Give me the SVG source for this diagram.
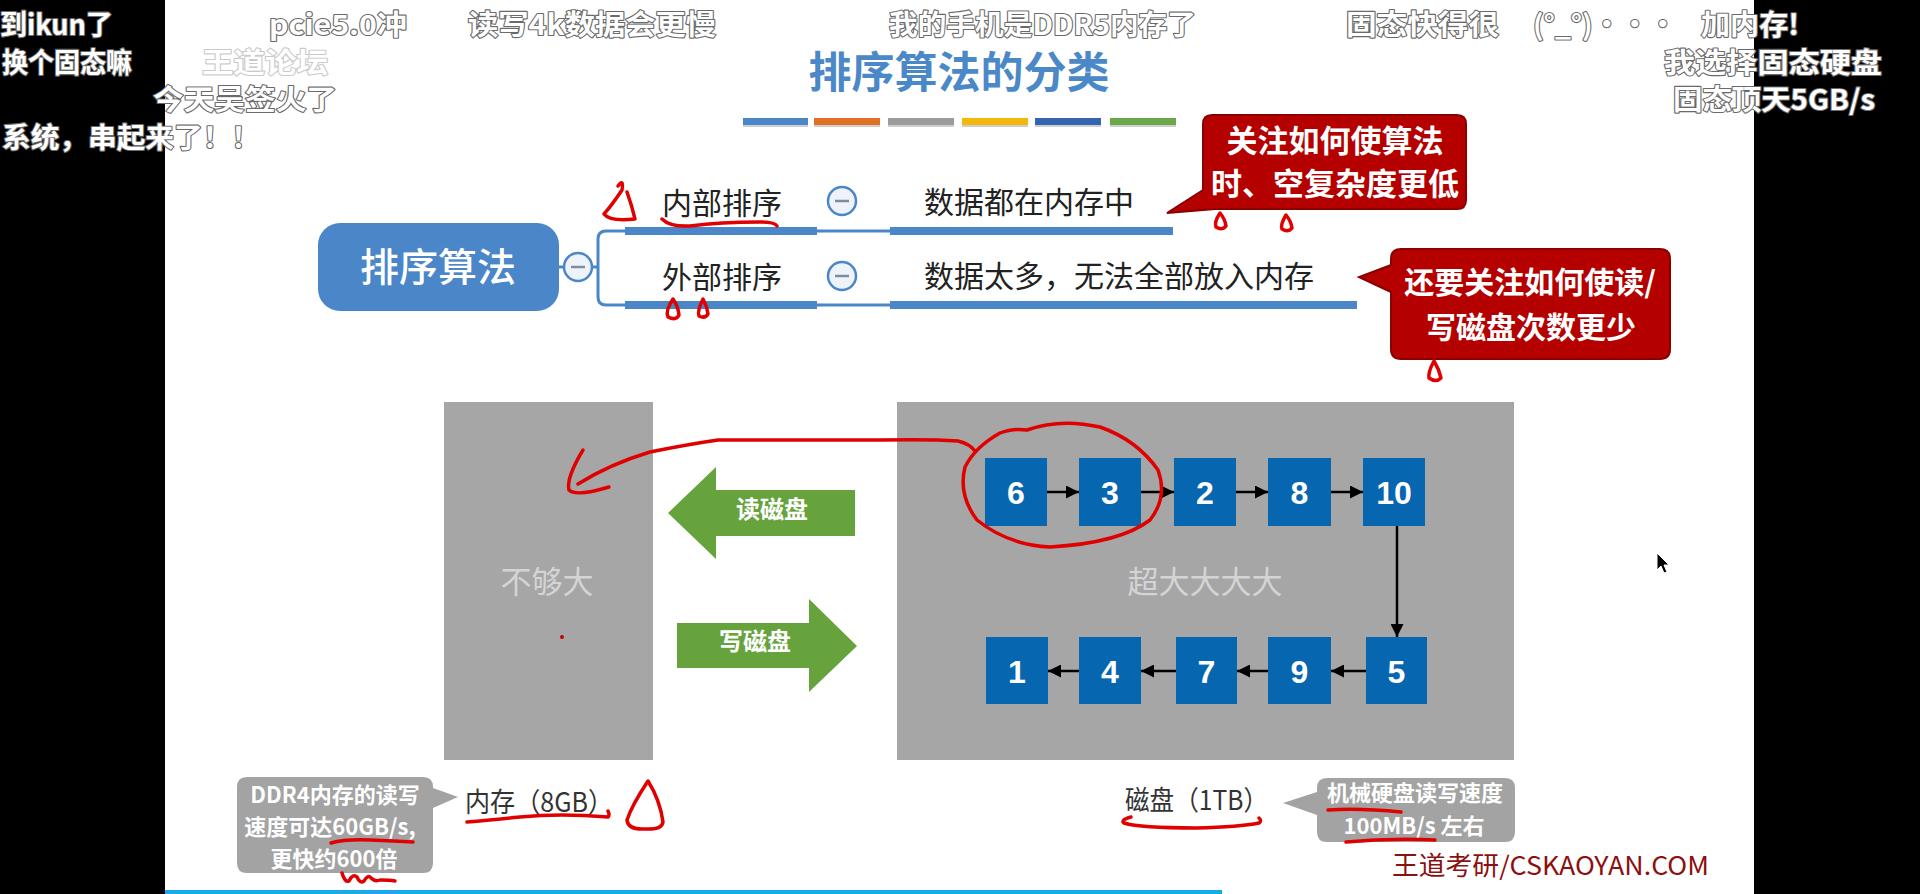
<svg xmlns="http://www.w3.org/2000/svg" width="1920" height="894" viewBox="0 0 1920 894">
<style>
.cjk{font-family:"Noto Sans CJK SC","Liberation Sans",sans-serif}
.dm{font-family:"Noto Sans CJK SC",sans-serif;font-weight:700;font-size:28px;fill:#fff;stroke:#6a6a6a;stroke-width:2.2;paint-order:stroke;stroke-linejoin:round}
.mm{stroke:#4a86c8;fill:none;stroke-width:3}
.bar{fill:#4a86c8}
.tog{fill:#eef3fa;stroke:#4a86c8;stroke-width:2.5}
.minus{stroke:#7d8ca3;stroke-width:2.5}
.node{fill:#0766b0}
.num{font-family:"Liberation Sans",Arial,sans-serif;font-weight:700;font-size:32px;fill:#fff;text-anchor:middle}
.lnk{stroke:#000;stroke-width:2.5;fill:none;marker-end:url(#ah)}
.red{stroke:#e00000;stroke-width:3.5;fill:none;stroke-linecap:round;stroke-linejoin:round}
.wt{fill:#fff;font-weight:700;text-anchor:middle}
.body{fill:#222;font-size:30px}
.lbl{fill:#333;font-size:27px}
</style>
<defs>
<marker id="ah" markerUnits="userSpaceOnUse" markerWidth="13" markerHeight="13" viewBox="0 0 13 13" refX="13" refY="6.5" orient="auto">
<path d="M0,0 L13,6.5 L0,13 Z" fill="#000"/>
</marker>
</defs>
<rect x="0" y="0" width="1920" height="894" fill="#fff"/>
<rect x="0" y="0" width="165" height="894" fill="#000"/>
<rect x="1754" y="0" width="166" height="894" fill="#000"/>
<rect x="165" y="890" width="1057" height="4" fill="#1aa9e8"/>

<g id="title">
<text x="959" y="88" class="cjk" font-size="43" font-weight="700" fill="#4a88c7" text-anchor="middle">排序算法的分类</text>
<rect x="743" y="120" width="65" height="7" fill="#cfcfcf"/>
<rect x="743" y="118" width="65" height="7" fill="#4a86c8"/>
<rect x="814" y="120" width="66" height="7" fill="#cfcfcf"/>
<rect x="814" y="118" width="66" height="7" fill="#e07026"/>
<rect x="888" y="120" width="66" height="7" fill="#cfcfcf"/>
<rect x="888" y="118" width="66" height="7" fill="#9c9c9c"/>
<rect x="962" y="120" width="66" height="7" fill="#cfcfcf"/>
<rect x="962" y="118" width="66" height="7" fill="#f4b70c"/>
<rect x="1035" y="120" width="66" height="7" fill="#cfcfcf"/>
<rect x="1035" y="118" width="66" height="7" fill="#3564b0"/>
<rect x="1110" y="120" width="66" height="7" fill="#cfcfcf"/>
<rect x="1110" y="118" width="66" height="7" fill="#6aa84a"/>
</g>

<g id="memory">
<rect x="444" y="402" width="209" height="358" fill="#a6a6a6"/>
<text x="547" y="593" class="cjk" font-size="31" fill="#d4d4d4" text-anchor="middle">不够大</text>
</g>
<g id="disk">
<rect x="897" y="402" width="617" height="358" fill="#a6a6a6"/>
<text x="1205" y="593" class="cjk" font-size="31" fill="#d4d4d4" text-anchor="middle">超大大大大</text>
</g>

<g id="connectors">
<path class="mm" d="M559,267 H564"/>
<path class="mm" d="M592,267 H598 M626,231 H606 Q598,231 598,239 V297 Q598,305 606,305 H626"/>
<path class="mm" d="M817,231 H890 M817,305 H890"/>
<path class="lnk" d="M1047,492 H1079"/>
<path class="lnk" d="M1141,492 H1174"/>
<path class="lnk" d="M1236,492 H1268"/>
<path class="lnk" d="M1331,492 H1363"/>
<path class="lnk" d="M1397,526 V637"/>
<path class="lnk" d="M1366,671 H1331"/>
<path class="lnk" d="M1268,671 H1237"/>
<path class="lnk" d="M1176,671 H1141"/>
<path class="lnk" d="M1079,671 H1048"/>
</g>

<g id="root">
<rect x="318" y="223" width="241" height="88" rx="22" fill="#4a86c8"/>
<text x="438" y="281" class="cjk" font-size="39" font-weight="500" fill="#fff" text-anchor="middle">排序算法</text>
<circle cx="578" cy="267" r="14" class="tog"/>
<path class="minus" d="M571,267 H585"/>
</g>

<g id="internal">
<text x="662" y="214" class="cjk body">内部排序</text>
<rect x="625" y="227" width="192" height="8" class="bar"/>
<circle cx="842" cy="201" r="14" class="tog"/>
<path class="minus" d="M835,201 H849"/>
</g>
<g id="internal-desc">
<text x="924" y="213" class="cjk body">数据都在内存中</text>
<rect x="890" y="227" width="283" height="8" class="bar"/>
</g>
<g id="external">
<text x="662" y="288" class="cjk body">外部排序</text>
<rect x="625" y="301" width="192" height="8" class="bar"/>
<circle cx="842" cy="276" r="14" class="tog"/>
<path class="minus" d="M835,276 H849"/>
</g>
<g id="external-desc">
<text x="924" y="287" class="cjk body">数据太多，无法全部放入内存</text>
<rect x="890" y="301" width="467" height="8" class="bar"/>
</g>

<g id="callout-time">
<path d="M1212,115 H1457 Q1466,115 1466,124 V200 Q1466,209 1457,209 H1215 L1167,213 L1203,190 V124 Q1203,115 1212,115 Z" fill="#b50000" stroke="#8a0000" stroke-width="2"/>
<text x="1335" y="152" class="cjk wt" font-size="31">关注如何使算法</text>
<text x="1335" y="195" class="cjk wt" font-size="31">时、空复杂度更低</text>
</g>
<g id="callout-io">
<path d="M1401,249 H1660 Q1670,249 1670,259 V349 Q1670,359 1660,359 H1401 Q1391,359 1391,349 V292 L1359,277 L1391,265 V259 Q1391,249 1401,249 Z" fill="#b50000" stroke="#8a0000" stroke-width="2"/>
<text x="1530" y="293" class="cjk wt" font-size="30">还要关注如何使读/</text>
<text x="1531" y="338" class="cjk wt" font-size="30">写磁盘次数更少</text>
</g>

<g id="read-arrow">
<path d="M668,513 L716,467 V490 H855 V536 H716 V559 Z" fill="#66a33d"/>
<text x="772" y="518" class="cjk wt" font-size="24">读磁盘</text>
</g>
<g id="write-arrow">
<path d="M857,646 L809,599 V623 H677 V668 H809 V692 Z" fill="#66a33d"/>
<text x="755" y="650" class="cjk wt" font-size="24">写磁盘</text>
</g>

<g id="n6"><rect x="985" y="458" width="62" height="68" class="node"/><text x="1016" y="504" class="num">6</text></g>
<g id="n3"><rect x="1079" y="458" width="62" height="68" class="node"/><text x="1110" y="504" class="num">3</text></g>
<g id="n2"><rect x="1174" y="458" width="62" height="68" class="node"/><text x="1205" y="504" class="num">2</text></g>
<g id="n8"><rect x="1268" y="458" width="63" height="68" class="node"/><text x="1299.5" y="504" class="num">8</text></g>
<g id="n10"><rect x="1363" y="458" width="62" height="68" class="node"/><text x="1394" y="504" class="num">10</text></g>
<g id="n5"><rect x="1366" y="637" width="61" height="67" class="node"/><text x="1396.5" y="683" class="num">5</text></g>
<g id="n9"><rect x="1268" y="637" width="63" height="67" class="node"/><text x="1299.5" y="683" class="num">9</text></g>
<g id="n7"><rect x="1176" y="637" width="61" height="67" class="node"/><text x="1206.5" y="683" class="num">7</text></g>
<g id="n4"><rect x="1079" y="637" width="62" height="67" class="node"/><text x="1110" y="683" class="num">4</text></g>
<g id="n1"><rect x="986" y="637" width="62" height="67" class="node"/><text x="1017" y="683" class="num">1</text></g>

<g id="memory-label">
<text x="465" y="812" class="cjk lbl" textLength="148" lengthAdjust="spacingAndGlyphs">内存（8GB）</text>
</g>
<g id="ddr-callout">
<path d="M247,777 H423 Q433,777 433,787 V788 L458,797 L433,808 V863 Q433,873 423,873 H247 Q237,873 237,863 V787 Q237,777 247,777 Z" fill="#a3a3a3"/>
<text x="335" y="803" class="cjk wt" font-size="22">DDR4内存的读写</text>
<text x="330" y="835" class="cjk wt" font-size="22">速度可达60GB/s,</text>
<text x="334" y="867" class="cjk wt" font-size="22">更快约600倍</text>
</g>
<g id="disk-label">
<text x="1125" y="810" class="cjk lbl" textLength="143" lengthAdjust="spacingAndGlyphs">磁盘（1TB）</text>
</g>
<g id="hdd-callout">
<path d="M1327,778 H1505 Q1515,778 1515,788 V832 Q1515,842 1505,842 H1327 Q1317,842 1317,832 V815 L1283,803 L1317,792 V788 Q1317,778 1327,778 Z" fill="#a3a3a3"/>
<text x="1415" y="801" class="cjk wt" font-size="22">机械硬盘读写速度</text>
<text x="1414" y="834" class="cjk wt" font-size="22">100MB/s 左右</text>
</g>
<g id="watermark">
<text x="1392" y="875" class="cjk" font-size="26" fill="#8b1010" textLength="317" lengthAdjust="spacingAndGlyphs">王道考研/CSKAOYAN.COM</text>
</g>

<g id="annotations">
<path class="red" d="M618,186 Q624,178 622,190 Q612,205 604,214 Q610,222 635,219 Q632,206 627,192"/>
<path class="red" d="M662,219 Q670,227 690,226 Q720,222 760,222 Q775,222 777,226"/>
<path class="red" d="M673,299 Q665,311 668,317 Q676,321 679,315 Q678,306 673,299 Z"/>
<path class="red" d="M703,299 Q697,311 699,316 Q705,319 708,314 Q707,306 703,299 Z"/>
<path class="red" d="M1220,213 Q1214,222 1216,227 Q1222,231 1226,226 Q1225,219 1220,213 Z"/>
<path class="red" d="M1286,215 Q1280,225 1282,229 Q1288,233 1292,228 Q1291,221 1286,215 Z"/>
<path class="red" d="M1434,361 Q1428,372 1429,378 Q1436,383 1441,378 Q1439,369 1434,361 Z"/>
<path class="red" d="M1027,430 Q1060,418 1100,427 Q1137,440 1158,470 Q1168,497 1150,520 Q1120,543 1050,547 Q1008,545 977,520 Q958,495 965,467 Q975,447 1000,433 Q1012,428 1027,430"/>
<path class="red" d="M975,451 Q970,444 958,441 Q930,439 880,440 H718 Q690,444 650,452 Q610,464 578,484"/>
<path class="red" d="M583,450 Q566,478 569,490 Q576,497 609,487"/>
<circle cx="562" cy="637" r="2" fill="#c00"/>
<path class="red" d="M648,781 Q632,805 627,820 Q628,830 645,829 Q662,830 663,822 Q660,800 648,781 Z"/>
<path class="red" d="M467,822 Q490,820 520,817 Q560,813 608,817 Q610,815 608,811"/>
<path class="red" d="M331,843 Q345,839 370,840 Q395,841 413,842"/>
<path class="red" d="M342,873 Q345,883 349,881 Q353,873 357,877 Q360,884 364,881 Q368,874 371,878 Q375,882 380,880 Q390,880 395,881"/>
<path class="red" d="M1131,817 Q1120,820 1124,823 Q1140,828 1196,828 Q1240,827 1259,823 Q1262,821 1259,818"/>
<path class="red" d="M1328,810 Q1360,808 1401,812"/>
<path class="red" d="M1346,842 Q1390,838 1435,840"/>
</g>

<g id="cursor">
<path d="M1657,553 L1657,570 L1661,566 L1664,573 L1667,572 L1664,565 L1669,565 Z" fill="#000" stroke="#fff" stroke-width="1"/>
</g>

<g id="danmaku">
<text x="0" y="35" class="dm" textLength="113" lengthAdjust="spacingAndGlyphs">到ikun了</text>
<text x="269" y="35" class="dm" textLength="138" lengthAdjust="spacingAndGlyphs">pcie5.0冲</text>
<text x="468" y="35" class="dm" textLength="248" lengthAdjust="spacingAndGlyphs">读写4k数据会更慢</text>
<text x="889" y="35" class="dm" textLength="307" lengthAdjust="spacingAndGlyphs">我的手机是DDR5内存了</text>
<text x="1346" y="35" class="dm" textLength="153" lengthAdjust="spacingAndGlyphs">固态快得很</text>
<text x="1533" y="35" class="dm">(°_°)···</text>
<text x="1701" y="35" class="dm" textLength="98" lengthAdjust="spacingAndGlyphs">加内存!</text>
<text x="2" y="73" class="dm" textLength="130" lengthAdjust="spacingAndGlyphs">换个固态嘛</text>
<text x="202" y="73" class="dm" font-size="30" opacity="0.35" textLength="126" lengthAdjust="spacingAndGlyphs">王道论坛</text>
<text x="1664" y="73" class="dm" textLength="218" lengthAdjust="spacingAndGlyphs">我选择固态硬盘</text>
<text x="153" y="110" class="dm" textLength="184" lengthAdjust="spacingAndGlyphs">今天吴签火了</text>
<text x="1673" y="110" class="dm" textLength="202" lengthAdjust="spacingAndGlyphs">固态顶天5GB/s</text>
<text x="2" y="148" class="dm" textLength="258" lengthAdjust="spacingAndGlyphs">系统，串起来了！！</text>
</g>
</svg>
